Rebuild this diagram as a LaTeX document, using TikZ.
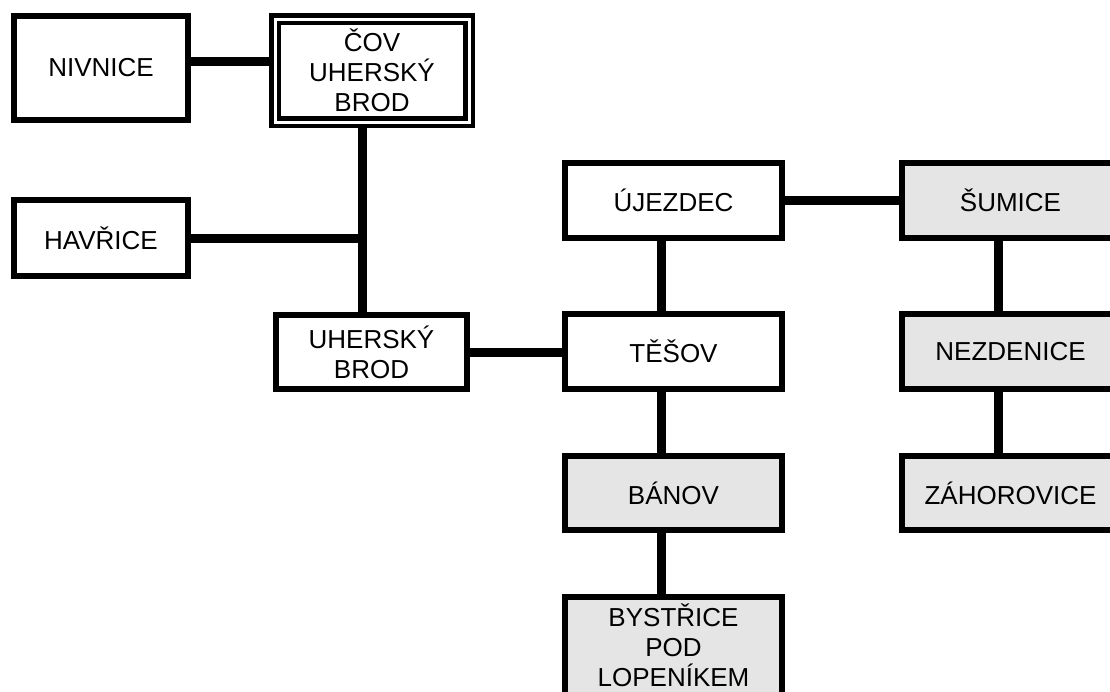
\documentclass[tikz,border=0pt]{standalone}
\usepackage{fontspec}
\setmainfont{Liberation Sans}
\usetikzlibrary{backgrounds}
\definecolor{kgray}{RGB}{229,229,229}

\begin{document}
\begin{tikzpicture}[x=1pt,y=-1pt,
  every node/.style={font=\fontsize{26}{30}\selectfont,align=center,inner sep=0pt,outer sep=0pt},
  box/.style n args={2}{draw,line width=6pt,fill=white,minimum width=#1,minimum height=#2},
  gbox/.style n args={2}{box={#1}{#2},fill=kgray},
  link/.style={line width=9pt}]
\useasboundingbox (0,0) rectangle (1110,691);
\clip (0,0) rectangle (1110,691);
% left part
\node[box={174pt}{104pt}] (niv) at (101,68) {NIVNICE};
\node[draw,double=white,double distance=3pt,line width=4.5pt,fill=white,
  minimum width=194pt,minimum height=103pt] (cov) at (372,70.5) {ČOV\\UHERSKÝ\\BROD};
\node[box={174pt}{76pt}] (hav) at (101,238) {HAVŘICE};
\node[box={191pt}{74pt}] (ub) at (371.5,352) {UHERSKÝ\\BROD};
% right part
\node[box={217pt}{75pt}] (uje) at (673.5,200.5) {ÚJEZDEC};
\node[gbox={217pt}{75pt}] (sum) at (1010.5,200.5) {ŠUMICE};
\node[box={217pt}{75pt}] (tes) at (673.5,351.5) {TĚŠOV};
\node[gbox={217pt}{75pt}] (nez) at (1010.5,351.5) {NEZDENICE};
\node[gbox={217pt}{74pt}] (ban) at (673.5,493) {BÁNOV};
\node[gbox={217pt}{74pt}] (zah) at (1010.5,493) {ZÁHOROVICE};
\node[gbox={217pt}{106pt},text depth=10pt] (bys) at (673.5,650) {BYSTŘICE\\POD\\LOPENÍKEM};
\begin{scope}[on background layer]
\coordinate (nc) at ([yshift=7pt]niv.east);
\coordinate (cs) at ([xshift=-10pt]cov.south);
\draw[link] (nc) -- (nc -| cov.west);
\draw[link] (cs) -- (cs |- ub.north);
\draw[link] (hav.east) -- (hav.east -| cs);
\draw[link] (ub.east) -- (ub.east -| tes.west);
\draw[link] (uje.east) -- (sum.west);
\foreach \a/\b in {uje/tes,tes/ban,ban/bys} {
   \draw[link] ([xshift=-12pt]\a.south) -- ([xshift=-12pt]\b.north);
}
\foreach \a/\b in {sum/nez,nez/zah} {
   \draw[link] ([xshift=-12pt]\a.south) -- ([xshift=-12pt]\b.north);
}
\end{scope}
\end{tikzpicture}
\end{document}
